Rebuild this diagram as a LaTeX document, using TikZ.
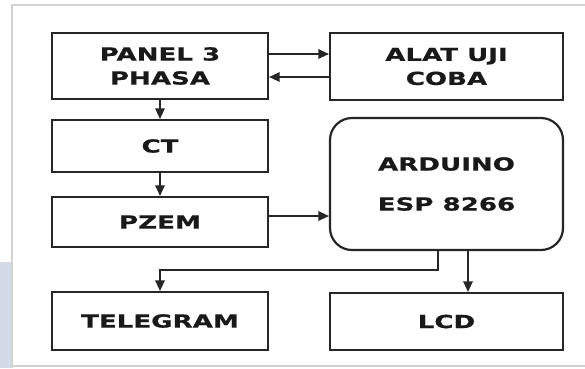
\documentclass[tikz,border=0pt]{standalone}
\usepackage{fontspec}
\newfontfamily\boxfont[FakeStretch=1.45,FakeBold=0.6]{DejaVu Sans Bold}
\usetikzlibrary{arrows.meta}
\definecolor{framegray}{HTML}{D2D2D2}
\definecolor{sideblue}{HTML}{D3DBE8}
\begin{document}
\begin{tikzpicture}[x=1pt,y=-1pt,
  blockbox/.style={draw=black!85,line width=2.2pt,inner sep=0pt,
    font=\boxfont\fontsize{18}{24}\selectfont,align=center,text=black!90},
  conn/.style={draw=black!85,line width=1.3pt,-{Triangle[length=10.5pt,width=9.5pt]}}]
\useasboundingbox (0,0) rectangle (585,368);
\fill[white] (0,0) rectangle (585,368);
\fill[sideblue] (0,262) rectangle (11,368);
\draw[framegray,line width=1.5pt] (585,5) -- (12,5) -- (12,368);
\draw[framegray,line width=1.2pt] (12,366) -- (585,366);
% boxes (corner coordinates in pixels)
\node[blockbox,minimum width=216pt,minimum height=66pt] (panel) at (160,66) {PANEL 3\\PHASA};
\node[blockbox,minimum width=233pt,minimum height=67pt] (alat) at (446.5,66.5) {ALAT UJI\\COBA};
\node[blockbox,minimum width=216pt,minimum height=52pt] (ct) at (160,146) {CT};
\node[blockbox,minimum width=216pt,minimum height=50pt] (pzem) at (160,222) {PZEM};
\node[blockbox,rounded corners=22pt,minimum width=233pt,minimum height=132pt,
  font=\boxfont\fontsize{18}{40}\selectfont] (ard) at (446.5,184) {ARDUINO\\ESP 8266};
\node[blockbox,minimum width=216pt,minimum height=58pt] (tele) at (160,321) {TELEGRAM};
\node[blockbox,minimum width=233pt,minimum height=57pt] (lcd) at (446.5,321.5) {LCD};
% connectors
\draw[conn] (panel.east |- 0,54) -- (alat.west |- 0,54);
\draw[conn] (alat.west |- 0,77) -- (panel.east |- 0,77);
\draw[conn] (panel.south) -- (ct.north);
\draw[conn] (ct.south) -- (pzem.north);
\draw[conn] (pzem.east |- 0,216) -- (ard.west |- 0,216);
\draw[conn] (ard.south -| 438,0) -- (438,270) -- (160,270) -- (tele.north);
\draw[conn] (ard.south -| 468,0) -- (lcd.north -| 468,0);
\end{tikzpicture}
\end{document}
